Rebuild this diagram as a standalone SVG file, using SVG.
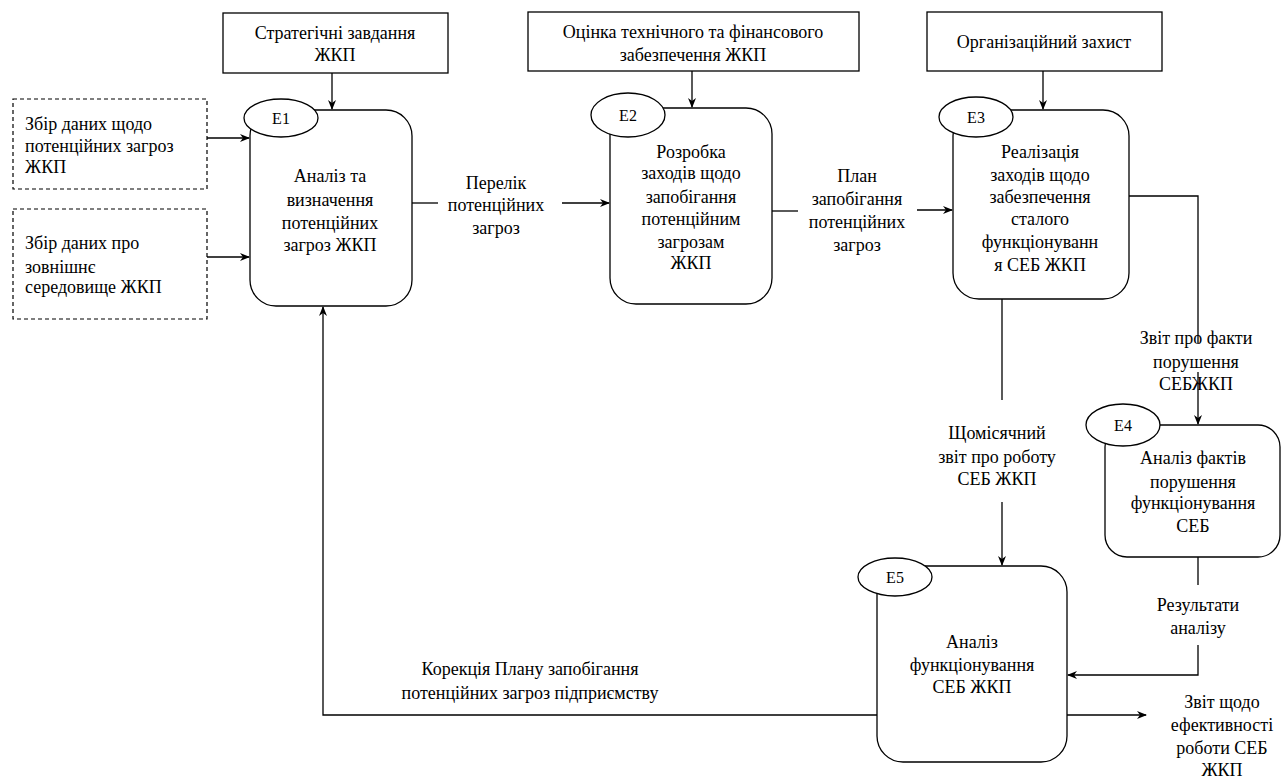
<svg xmlns="http://www.w3.org/2000/svg" width="1285" height="780" viewBox="0 0 1285 780">
<style>
text{font-family:"Liberation Serif",Tinos,"Noto Serif","Nimbus Roman","FreeSerif","Times New Roman","DejaVu Serif",serif;font-size:18px;fill:#000;text-anchor:middle}
.l{text-anchor:start}
.box{fill:#fff;stroke:#000;stroke-width:1.3}
.dash{fill:#fff;stroke:#000;stroke-width:1.2;stroke-dasharray:4 3}
.ell{fill:#fff;stroke:#000;stroke-width:1.3}
.c{fill:none;stroke:#000;stroke-width:1.3}
</style>
<defs>
<marker id="a" viewBox="0 0 10 8" refX="9" refY="4" markerWidth="10" markerHeight="8" markerUnits="userSpaceOnUse" orient="auto">
<path d="M0,0 L10,4 L0,8 L3,4 z" fill="#000"/>
</marker>
</defs>
<g id="connectors">
<path class="c" d="M332,73 V109" marker-end="url(#a)"/>
<path class="c" d="M207,138 H249" marker-end="url(#a)"/>
<path class="c" d="M207,257 H249" marker-end="url(#a)"/>
<path class="c" d="M412,203 H438"/>
<path class="c" d="M562,203 H609" marker-end="url(#a)"/>
<path class="c" d="M692,71 V107" marker-end="url(#a)"/>
<path class="c" d="M772,211 H798"/>
<path class="c" d="M917,210 H952" marker-end="url(#a)"/>
<path class="c" d="M1043,71 V109" marker-end="url(#a)"/>
<path class="c" d="M1129,196 H1198 V343"/>
<path class="c" d="M1198,372 V424" marker-end="url(#a)"/>
<path class="c" d="M1002,299 V400"/>
<path class="c" d="M1002,502 V565" marker-end="url(#a)"/>
<path class="c" d="M1198,557 V585"/>
<path class="c" d="M1198,645 V675 H1068" marker-end="url(#a)"/>
<path class="c" d="M1067,715 H1146" marker-end="url(#a)"/>
<path class="c" d="M877,715 H323 V307" marker-end="url(#a)"/>
<text x="496" y="189">Перелік</text>
<text x="496" y="211">потенційних</text>
<text x="496" y="234">загроз</text>
<text x="857" y="182">План</text>
<text x="857" y="205">запобігання</text>
<text x="857" y="228">потенційних</text>
<text x="857" y="251">загроз</text>
<text x="1196" y="344">Звіт про факти</text>
<text x="1196" y="368">порушення</text>
<text x="1196" y="390">СЕБЖКП</text>
<text x="997" y="439">Щомісячний</text>
<text x="997" y="463">звіт про роботу</text>
<text x="997" y="485">СЕБ ЖКП</text>
<text x="1198" y="611">Результати</text>
<text x="1198" y="634">аналізу</text>
<text x="1222" y="708">Звіт щодо</text>
<text x="1222" y="731">ефективності</text>
<text x="1222" y="754">роботи СЕБ</text>
<text x="1222" y="776">ЖКП</text>
<text x="530" y="675">Корекція Плану запобігання</text>
<text x="530" y="699">потенційних загроз підприємству</text>
</g>
<g id="top1">
<rect class="box" x="223" y="13" width="225" height="60"/>
<text x="335" y="39">Стратегічні завдання</text>
<text x="335" y="61">ЖКП</text>
</g>
<g id="top2">
<rect class="box" x="528" y="12" width="331" height="59"/>
<text x="693" y="38">Оцінка технічного та фінансового</text>
<text x="693" y="61">забезпечення ЖКП</text>
</g>
<g id="top3">
<rect class="box" x="927" y="12" width="235" height="59"/>
<text x="1044" y="48">Організаційний захист</text>
</g>
<g id="in1">
<rect class="dash" x="13" y="99" width="194" height="90"/>
<text class="l" x="25" y="130">Збір даних щодо</text>
<text class="l" x="25" y="152">потенційних загроз</text>
<text class="l" x="25" y="173">ЖКП</text>
</g>
<g id="in2">
<rect class="dash" x="13" y="209" width="194" height="110"/>
<text class="l" x="25" y="249">Збір даних про</text>
<text class="l" x="25" y="273">зовнішнє</text>
<text class="l" x="25" y="293">середовище ЖКП</text>
</g>
<g id="E1">
<rect class="box" x="250" y="110" width="162" height="196" rx="26"/>
<ellipse class="ell" cx="281" cy="118" rx="37" ry="19"/>
<text x="281" y="124" style="font-size:16px">Е1</text>
<text x="330" y="182">Аналіз та</text>
<text x="330" y="206">визначення</text>
<text x="330" y="229">потенційних</text>
<text x="330" y="251">загроз ЖКП</text>
</g>
<g id="E2">
<rect class="box" x="610" y="108" width="162" height="196" rx="26"/>
<ellipse class="ell" cx="628" cy="115" rx="37" ry="22"/>
<text x="628" y="121" style="font-size:16px">Е2</text>
<text x="691" y="158">Розробка</text>
<text x="691" y="179">заходів щодо</text>
<text x="691" y="203">запобігання</text>
<text x="691" y="225">потенційним</text>
<text x="691" y="248">загрозам</text>
<text x="691" y="269">ЖКП</text>
</g>
<g id="E3">
<rect class="box" x="953" y="110" width="176" height="189" rx="26"/>
<ellipse class="ell" cx="976" cy="117" rx="37" ry="20"/>
<text x="976" y="123" style="font-size:16px">Е3</text>
<text x="1040" y="158">Реалізація</text>
<text x="1040" y="181">заходів щодо</text>
<text x="1040" y="203">забезпечення</text>
<text x="1040" y="225">сталого</text>
<text x="1040" y="248">функціонуванн</text>
<text x="1040" y="271">я СЕБ ЖКП</text>
</g>
<g id="E4">
<rect class="box" x="1105" y="425" width="175" height="132" rx="22"/>
<ellipse class="ell" cx="1123" cy="425" rx="37" ry="21"/>
<text x="1123" y="431" style="font-size:16px">Е4</text>
<text x="1193" y="464">Аналіз фактів</text>
<text x="1193" y="488">порушення</text>
<text x="1193" y="509">функціонування</text>
<text x="1193" y="532">СЕБ</text>
</g>
<g id="E5">
<rect class="box" x="877" y="566" width="190" height="196" rx="26"/>
<ellipse class="ell" cx="895" cy="577" rx="37" ry="19"/>
<text x="895" y="583" style="font-size:16px">Е5</text>
<text x="972" y="648">Аналіз</text>
<text x="972" y="671">функціонування</text>
<text x="972" y="693">СЕБ ЖКП</text>
</g>
</svg>
